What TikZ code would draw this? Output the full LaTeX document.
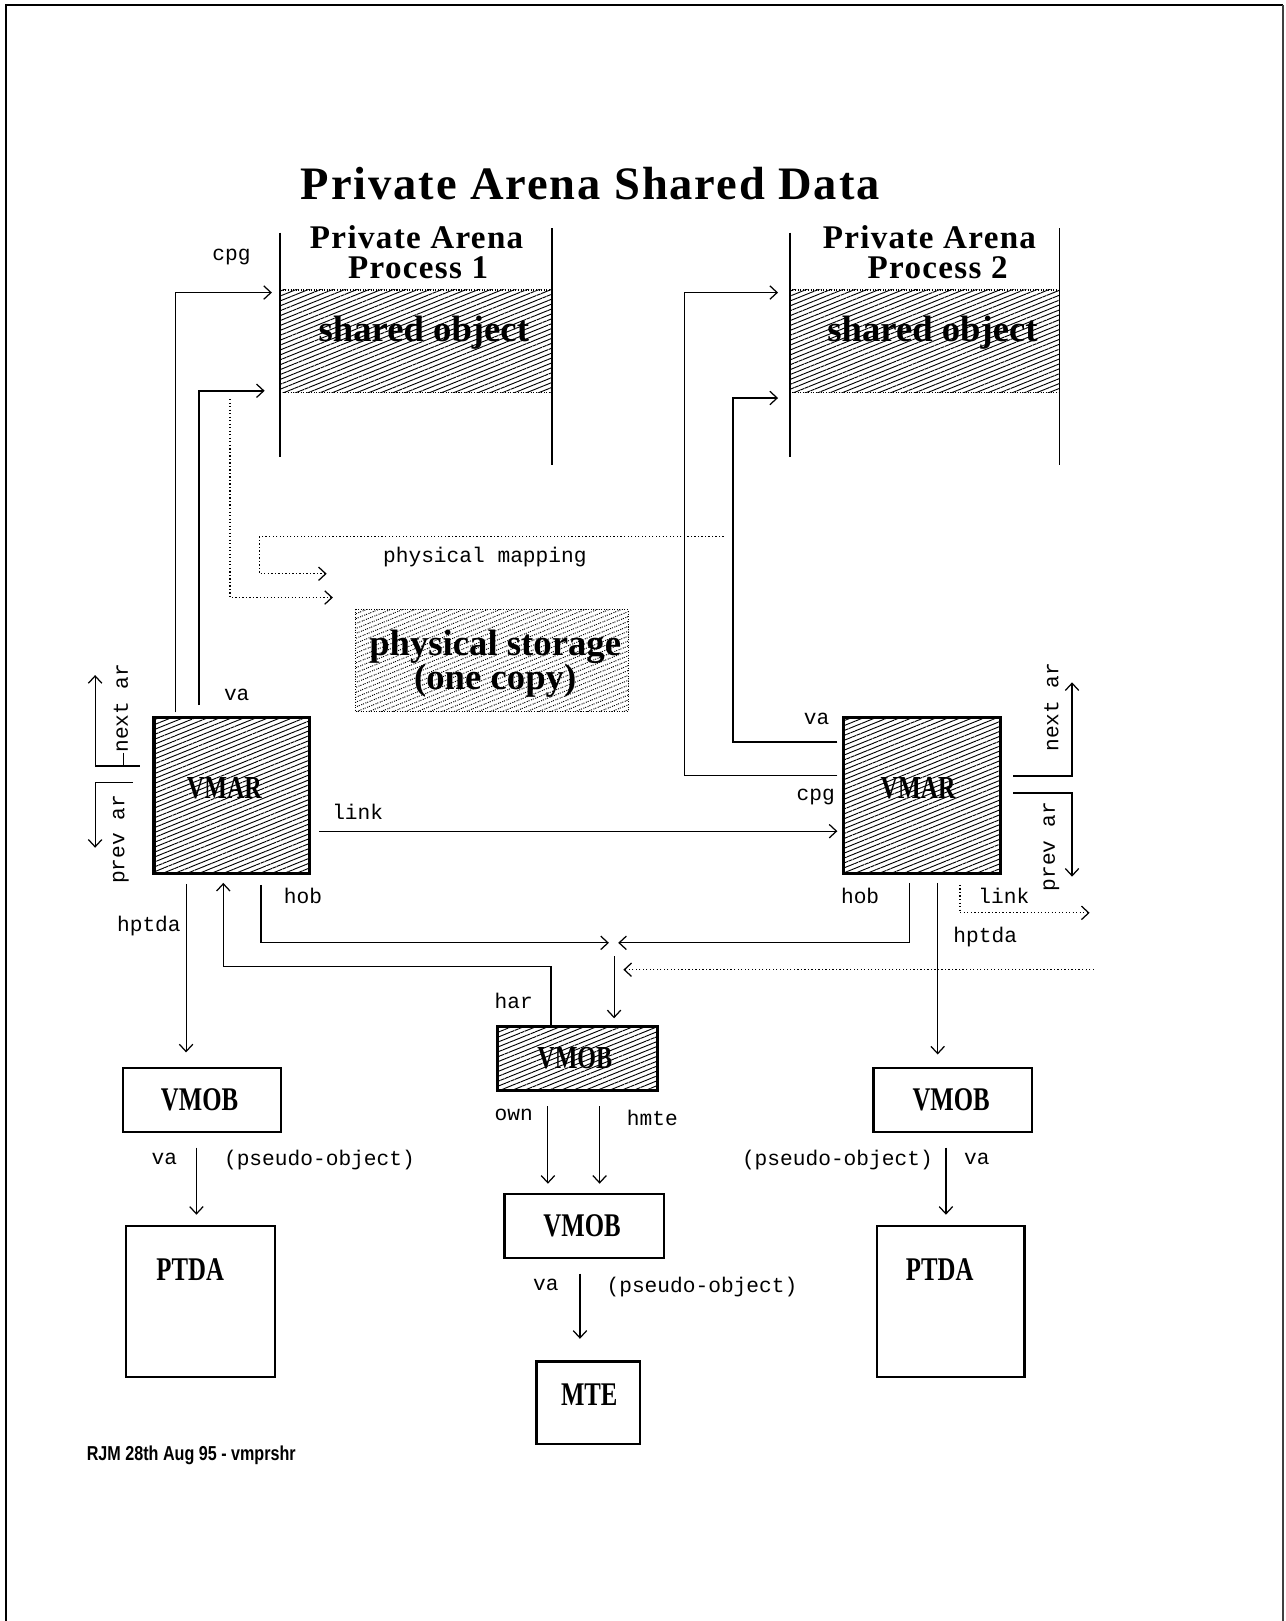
\documentclass[tikz,border=0pt]{standalone}
\usepackage{fontspec}
\setmainfont{Liberation Serif}
\newfontfamily\courf{Liberation Mono}
\newfontfamily\condf[FakeStretch=0.75]{Liberation Serif}
\newfontfamily\footf[FakeStretch=0.8]{Liberation Sans}
\newfontfamily\headf[LetterSpace=4]{Liberation Serif}
\usetikzlibrary{arrows.meta,patterns.meta,calc}
\begin{document}
\begin{tikzpicture}[x=1pt,y=-1pt,
  lbl/.style={font=\courf\fontsize{20.5}{22}\selectfont, inner sep=0pt},
  arr/.style={-{Straight Barb[length=7pt,width=13pt,line width=1.2pt]}, line width=1.1pt},
  thickarr/.style={arr, line width=2pt},
  dotarr/.style={arr, dash pattern=on 1.2pt off 2.2pt, line width=1.2pt},
  hatch/.style={pattern={Lines[angle=22,distance=4.4pt,line width=0.9pt]}},
  box/.style={draw, line width=2.2pt, inner sep=0pt, outer sep=0pt},
  hbox/.style={draw, line width=3pt, inner sep=0pt, outer sep=0pt, hatch},
  region/.style={inner sep=0pt, outer sep=0pt, hatch},
  boxtxt/.style={font=\condf\bfseries\fontsize{32}{34}\selectfont, inner sep=0pt},
  hboxtxt/.style={font=\condf\bfseries\fontsize{31}{33}\selectfont, inner sep=0pt},
  bigtxt/.style={font=\bfseries\fontsize{35.5}{38}\selectfont, inner sep=0pt},
  headtxt/.style={font=\headf\bfseries\fontsize{32}{29}\selectfont, inner sep=0pt, align=center},
  rail/.style={line width=2pt}
]
\useasboundingbox (0,0) rectangle (1243,1568);
% page frame
\draw[line width=2.2pt] (6,1568) -- (6,5) -- (1241,5);
\draw[line width=1.6pt, black!75] (1241,5) -- (1241,1568);

% title
\node[font=\headf\bfseries\fontsize{45}{47}\selectfont, inner sep=0pt] (title) at (571,178) {Private Arena Shared Data};

% arena 1
\node[headtxt] (ar1) at (403,244) {Private Arena\\\hspace*{3pt}Process 1};
\node[region, minimum width=263, minimum height=99.5] (shared1) at (402.5,330.25) {};
\draw[dash pattern=on 1pt off 1.5pt, line width=1pt] (shared1.north west) -- (shared1.north east);
\draw[dash pattern=on 1pt off 1.5pt, line width=1pt] (shared1.south west) -- (shared1.south east);
\draw[rail] (271,225) -- (271,442);
\draw[rail] (534,221) -- (534,450);
\node[bigtxt] (so1) at (410,322) {shared object};

% arena 2
\node[headtxt] (ar2) at (899,244) {Private Arena\\\hspace*{16pt}Process 2};
\node[region, minimum width=261, minimum height=99.5] (shared2) at (894.5,330.25) {};
\draw[dash pattern=on 1pt off 1.5pt, line width=1pt] (shared2.north west) -- (shared2.north east);
\draw[dash pattern=on 1pt off 1.5pt, line width=1pt] (shared2.south west) -- (shared2.south east);
\draw[line width=1.4pt] (764,225) -- (764,442);
\draw[line width=1.6pt] (1025,221) -- (1025,450);
\node[bigtxt] (so2) at (902,322) {shared object};

% physical storage
\node[region, draw, dash pattern=on 1pt off 1.5pt, line width=1pt, minimum width=264, minimum height=98] (phys) at (476,639) {};
\node[bigtxt] (phys1) at (479,626) {physical storage};
\node[bigtxt] (phys2) at (479,658) {(one copy)};
\node[lbl] (pmap) at (469,539) {physical mapping};

% VMARs
\node[hbox, minimum width=150, minimum height=151] (vmar1) at (224,769.5) {};
\node[hboxtxt] (vmar1t) at (217,762) {VMAR};
\node[hbox, minimum width=152.5, minimum height=151] (vmar2) at (891.75,769.5) {};
\node[hboxtxt] (vmar2t) at (888,762) {VMAR};

% central hatched VMOB
\node[hbox, minimum width=155, minimum height=62] (vmobH) at (558.5,1024) {};
\node[hboxtxt] (vmobHt) at (556,1024) {VMOB};

% plain boxes
\node[box, minimum width=153, minimum height=62] (vmobL) at (195.5,1064) {};
\node[boxtxt] (vmobLt) at (193,1064) {VMOB};
\node[box, minimum width=153, minimum height=62] (vmobR) at (921.5,1064) {};
\node[boxtxt] (vmobRt) at (920,1064) {VMOB};
\node[box, minimum width=154, minimum height=62] (vmobC) at (565,1186) {};
\node[boxtxt] (vmobCt) at (563,1186) {VMOB};
\node[box, minimum width=144, minimum height=146] (ptdaL) at (194,1259) {};
\node[boxtxt] (ptdaLt) at (184,1228) {PTDA};
\node[box, minimum width=143, minimum height=146] (ptdaR) at (919.5,1259) {};
\node[boxtxt] (ptdaRt) at (909,1228) {PTDA};
\node[box, minimum width=100, minimum height=80] (mte) at (569,1357) {};
\node[boxtxt] (mtet) at (570,1349) {MTE};

% connectors from VMAR 1 to arena 1
\draw[arr] ($(vmar1.north west)+(21,-5)$) |- ($(shared1.north west)+(-8,2.5)$);
\draw[thickarr] ($(vmar1.north west)+(43.5,-12)$) |- ($(shared1.south west)+(-15,-2)$);
\node[lbl] (cpg1) at (224,249) {cpg};
\node[lbl] (va1) at (229,672) {va};

% physical mapping dotted arrows
\draw[dotarr] ($(shared1.south west)+(-48.5,6)$) |- ($(phys.north west)+(-22,-12)$);
\coordinate (pm0) at (700,519);
\coordinate (pm1) at (251,555);
\draw[dotarr] (pm0) -| (pm1) -- ($(phys.north west)+(-28,-35)$);

% connectors from VMAR 2 to arena 2
\draw[arr] ($(vmar2.north west)+(-5.5,56)$) -| ($(shared2.north west)+(-102,2.5)$) -- ($(shared2.north west)+(-11.4,2.5)$);
\draw[thickarr] ($(vmar2.north west)+(-5.5,24)$) -| ($(shared2.south west)+(-55,5)$) -- ($(shared2.south west)+(-11.4,5)$);
\node[lbl] (va2) at (790,695) {va};
\node[lbl] (cpg2) at (789,771) {cpg};

% link VMAR1 -> VMAR2
\draw[arr] ($(vmar1.south east)+(9.6,-41)$) -- ($(vmar2.south west)+(-5.5,-41)$);
\node[lbl] (link1) at (346,785) {link};

% next / prev ar, left
\draw[arr] ($(vmar1.north west)+(-14,47)$) -| (92,653);
\draw[arr] ($(vmar1.north west)+(-20.4,63)$) -| (92,820);
\draw[line width=1pt] (119,728) -- (119,741);
\node[lbl, rotate=90] (nextL) at (117,685) {next ar};
\node[lbl, rotate=90] (prevL) at (117,812) {prev ar};

% next / prev ar, right
\draw[thickarr] ($(vmar2.north east)+(12,56.6)$) -| (1037,660);
\draw[thickarr] ($(vmar2.north east)+(12,73)$) -| (1037,848);
\node[lbl, rotate=90] (nextR) at (1017,684) {next ar};
\node[lbl, rotate=90] (prevR) at (1017,819) {prev ar};

% below VMAR 1
\draw[arr] ($(vmar1.south west)+(31,10)$) -- ($(vmobL.north)+(-15.5,-15)$);
\draw[arr] ($(vmobH.north west)+(52,0)$) |- ($(vmar1.south west)+(67,90)$) -- ($(vmar1.south west)+(67,9)$);
\coordinate (jL) at (589,912);
\coordinate (jR) at (598,912);
\draw[arr] ($(vmar1.south west)+(103.5,11)$) |- (jL);
\node[lbl] (hob1) at (293,867) {hob};
\node[lbl] (hptda1) at (144,896) {hptda};
\node[lbl] (har) at (497,968) {har};

% below VMAR 2
\draw[arr] ($(vmar2.south west)+(64.5,9)$) |- (jR);
\draw[arr] ($(vmar2.south east)+(-61,9)$) -- ($(vmobR.north)+(-14.5,-13)$);
\draw[dotarr] ($(vmar2.south east)+(-39.4,11)$) |- (1054,883);
\node[lbl] (hob2) at (832,867) {hob};
\node[lbl] (hptda2) at (953,906) {hptda};
\node[lbl] (link2) at (971,867) {link};

% into central VMOB
\coordinate (dn0) at (594,925);
\draw[arr] (dn0) -- ($(vmobH.north west)+(113,-8)$);
\coordinate (dot0) at (1058,938);
\draw[dotarr] (dot0) -- (603,938);

% central column
\draw[arr] ($(vmobH.south west)+(49,15)$) -- ($(vmobC.north west)+(42,-10)$);
\draw[arr] ($(vmobH.south west)+(99,15)$) -- ($(vmobC.north west)+(92,-10)$);
\node[lbl] (own) at (497,1078) {own};
\node[lbl] (hmte) at (631,1081) {hmte};
\draw[arr] ($(vmobC.south)+(-4,15)$) -- ($(mte.north)+(-8,-22)$);
\node[lbl] (vaC) at (528,1243) {va};
\node[lbl] (psC) at (679,1245) {(pseudo-object)};

% left column
\draw[arr] ($(vmobL.south)+(-5.5,15)$) -- ($(ptdaL.north)+(-4,-11)$);
\node[lbl] (vaL) at (159,1121) {va};
\node[lbl] (psL) at (309,1122) {(pseudo-object)};

% right column
\draw[arr] ($(vmobR.south)+(-6.5,15)$) -- ($(ptdaR.north)+(-4.5,-11)$);
\node[lbl] (psR) at (810,1122) {(pseudo-object)};
\node[lbl] (vaR) at (945,1121) {va};

% footer
\node[font=\footf\bfseries\fontsize{19.5}{21}\selectfont, inner sep=0pt] (foot) at (185,1408) {RJM 28th Aug 95 - vmprshr};
\end{tikzpicture}
\end{document}
